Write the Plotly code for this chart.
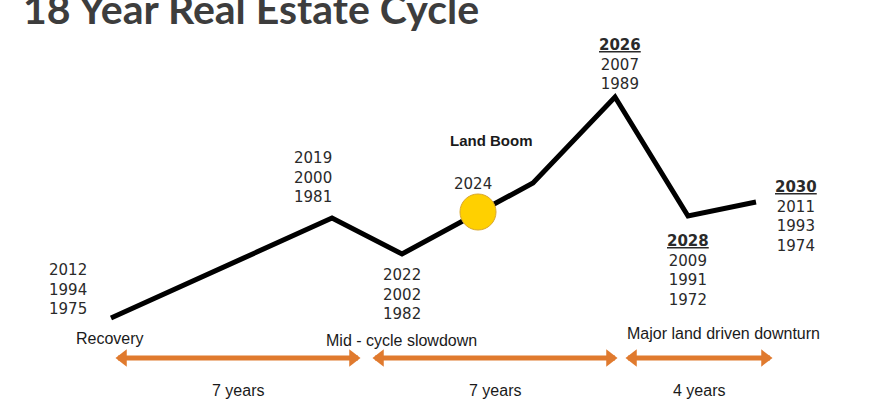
import plotly.graph_objects as go

# 사이클 꺾은선 (가로 위치, 높이)
stage_x = [111, 332, 402, 533, 615, 688, 756]
cycle_level = [82, 182, 146, 217, 303, 184, 198]

# 연도 라벨 (첫 항목이 굵은 밑줄인지)
label_years = [
    ["2012", "1994", "1975"],
    ["2019", "2000", "1981"],
    ["2022", "2002", "1982"],
    ["2026", "2007", "1989"],
    ["2028", "2009", "1991", "1972"],
    ["2030", "2011", "1993", "1974"],
]
label_bold = [False, False, False, True, True, True]
label_x = [68, 313, 402, 620, 688, 796]
label_y = [111, 223, 106, 336, 130, 184]

# 현재 위치 (2024)
now_x = [478]
now_level = [188]
now_label = "2024"

# 구간 화살표
phase_names = ["Recovery", "Mid - cycle slowdown", "Major land driven downturn"]
phase_years = [7, 7, 4]
phase_start = [118, 375, 628]
phase_end = [358, 615, 770]
phase_label_x = [110, 401, 723]
phase_label_y = [62, 60, 67]

fig = go.Figure()

fig.add_trace(go.Scatter(
    x=stage_x, y=cycle_level, mode='lines',
    line=dict(color='black', width=5), hoverinfo='skip',
))

fig.add_trace(go.Scatter(
    x=now_x, y=now_level, mode='markers',
    marker=dict(size=36, color='#FFD000', line=dict(color='#D9A830', width=1)),
    hoverinfo='skip',
))

orange = '#E07A2E'
for s, e in zip(phase_start, phase_end):
    fig.add_trace(go.Scatter(
        x=[s, e], y=[42, 42], mode='lines',
        line=dict(color=orange, width=5), hoverinfo='skip',
    ))
    fig.add_trace(go.Scatter(
        x=[s + 5, e - 5], y=[42, 42], mode='markers',
        marker=dict(symbol=['triangle-left', 'triangle-right'], size=15, color=orange),
        hoverinfo='skip',
    ))

year_font = dict(family='DejaVu Sans', size=15, color='#2a2a2a')
for yrs, bold, lx, ly in zip(label_years, label_bold, label_x, label_y):
    first = f"<b><u>{yrs[0]}</u></b>" if bold else yrs[0]
    fig.add_annotation(
        x=lx, y=ly, text="<br>".join([first] + yrs[1:]),
        showarrow=False, xanchor='center', yanchor='middle', font=year_font,
    )

fig.add_annotation(x=473, y=216, text=now_label, showarrow=False, font=year_font)
fig.add_annotation(
    x=491, y=260, text="<b>Land Boom</b>", showarrow=False,
    font=dict(family='Liberation Sans', size=15, color='#1a1a1a'),
)

phase_font = dict(family='Liberation Sans', size=16, color='#1a1a1a')
for name, yrs, s, e, cx, ny in zip(phase_names, phase_years, phase_start, phase_end,
                                   phase_label_x, phase_label_y):
    fig.add_annotation(x=cx, y=ny, text=name, showarrow=False, font=phase_font)
    fig.add_annotation(x=(s + e) / 2, y=10, text=f"{yrs} years", showarrow=False, font=phase_font)

fig.add_annotation(
    x=21, y=365, text="<b>18 Year Real Estate Cycle</b>", showarrow=False,
    xanchor='left', yanchor='bottom',
    font=dict(family='Lato', size=41, color='#3d3d3d'),
)

fig.update_layout(
    width=870, height=400,
    margin=dict(l=0, r=0, t=0, b=0),
    plot_bgcolor='white', paper_bgcolor='white',
    showlegend=False,
    xaxis=dict(range=[0, 870], visible=False, fixedrange=True),
    yaxis=dict(range=[0, 400], visible=False, fixedrange=True),
)

fig.write_html("out.html", config={'displayModeBar': False},
               post_script="document.body.style.margin='0';")
